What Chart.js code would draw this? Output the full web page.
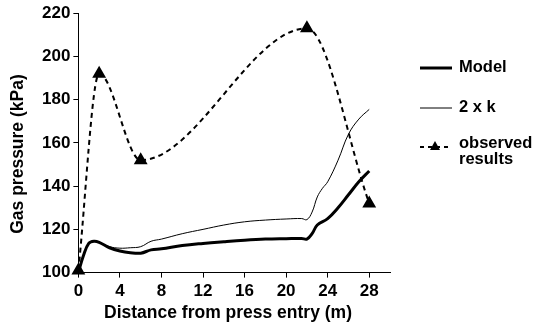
<!DOCTYPE html>
<html>
<head>
<meta charset="utf-8">
<script src="https://cdn.jsdelivr.net/npm/chart.js@4.4.1/dist/chart.umd.min.js"></script>
<style>
  html, body { margin: 0; padding: 0; background: #fff; }
  #wrap { width: 534px; height: 326px; position: relative; }
</style>
</head>
<body>
<div id="wrap"><canvas id="chart" width="534" height="326"></canvas></div>
<script>
// x positions (m) and pressures (kPa)
const modelX = [0, 0.5, 1, 1.5, 2, 3, 4, 5, 6, 7, 8, 10, 12, 14, 16, 18, 20, 21.5, 22, 22.5, 23, 24, 25, 26, 27, 28];
const modelY = [100, 108, 113.5, 114.5, 114, 111.5, 110, 109.2, 109, 110.5, 111, 112.5, 113.5, 114.3, 115, 115.5, 115.7, 115.8, 115.5, 118, 122, 125, 130, 136, 142, 147];

const twoKX = [0, 0.5, 1, 1.5, 2, 3, 4, 5, 6, 7, 8, 10, 12, 14, 16, 18, 20, 21.5, 22, 22.5, 23, 23.5, 24, 25, 26, 27, 28];
const twoKY = [100, 108, 113.5, 114.5, 114, 112, 111.3, 111.5, 112, 114.5, 115.5, 118, 120, 122, 123.5, 124.3, 124.8, 125, 124.5, 128, 135, 139, 142, 152, 164, 171, 175.5];

const observedX = [0, 2, 6, 22, 28];
const observedY = [101, 192, 152, 213, 132];

const xTicks = [0, 4, 8, 12, 16, 20, 24, 28];
const yTicks = [100, 120, 140, 160, 180, 200, 220];

const xTitle = 'Distance from press entry (m)';
const yTitle = 'Gas pressure (kPa)';

const toPoints = (xs, ys) => xs.map((x, i) => ({ x: x, y: ys[i] }));

const FAMILY = '"Liberation Sans", Arial, sans-serif';

// axis titles and the legend on the right are drawn here
const sideLegend = {
    id: 'sideLegend',
    afterDraw(chart) {
        const ctx = chart.ctx;
        ctx.save();
        ctx.fillStyle = '#000';
        ctx.strokeStyle = '#000';
        ctx.textBaseline = 'middle';

        ctx.font = 'bold 17.5px ' + FAMILY;
        ctx.textAlign = 'center';
        ctx.fillText(xTitle, 228, 313);
        ctx.save();
        ctx.translate(18, 154);
        ctx.rotate(-Math.PI / 2);
        ctx.fillText(yTitle, 0, 0);
        ctx.restore();

        ctx.textAlign = 'left';
        ctx.font = 'bold 16.5px ' + FAMILY;

        ctx.lineWidth = 3;
        ctx.beginPath(); ctx.moveTo(420, 68); ctx.lineTo(452, 68); ctx.stroke();
        ctx.fillText('Model', 459, 67);

        ctx.lineWidth = 1;
        ctx.beginPath(); ctx.moveTo(420, 108); ctx.lineTo(452, 108); ctx.stroke();
        ctx.fillText('2 x k', 459, 107);

        ctx.lineWidth = 2;
        ctx.setLineDash([4, 4]);
        ctx.beginPath(); ctx.moveTo(420, 147); ctx.lineTo(452, 147); ctx.stroke();
        ctx.setLineDash([]);
        ctx.beginPath();
        ctx.moveTo(435, 141); ctx.lineTo(440, 150); ctx.lineTo(430, 150); ctx.closePath();
        ctx.fill();
        ctx.fillText('observed', 459, 143);
        ctx.fillText('results', 459, 159);
        ctx.restore();
    }
};

const tickFont = { family: FAMILY, size: 17, weight: 'bold' };

new Chart(document.getElementById('chart'), {
    type: 'line',
    data: {
        datasets: [
            {
                label: 'observed results',
                data: toPoints(observedX, observedY),
                borderColor: '#000',
                backgroundColor: '#000',
                borderWidth: 2,
                borderDash: [5, 4],
                cubicInterpolationMode: 'monotone',
                pointStyle: 'triangle',
                pointRadius: 6,
                pointBackgroundColor: '#000',
                pointBorderColor: '#000',
                clip: false
            },
            {
                label: 'Model',
                data: toPoints(modelX, modelY),
                borderColor: '#000',
                borderWidth: 3,
                tension: 0.4,
                pointRadius: 0,
                clip: false
            },
            {
                label: '2 x k',
                data: toPoints(twoKX, twoKY),
                borderColor: '#000',
                borderWidth: 1,
                tension: 0.4,
                pointRadius: 0,
                clip: false
            }
        ]
    },
    options: {
        responsive: false,
        animation: false,
        layout: { padding: { top: 4, right: 144, left: 39, bottom: 20 } },
        plugins: { legend: { display: false }, tooltip: { enabled: false } },
        scales: {
            x: {
                type: 'linear',
                min: 0,
                max: 30,
                afterBuildTicks: axis => { axis.ticks = xTicks.map(v => ({ value: v })); },
                ticks: { color: '#000', font: tickFont, padding: 4, maxRotation: 0 },
                grid: { drawOnChartArea: false, color: '#000', tickLength: 5 },
                border: { color: '#000', width: 1 }
            },
            y: {
                min: 100,
                max: 220,
                afterBuildTicks: axis => { axis.ticks = yTicks.map(v => ({ value: v })); },
                ticks: { color: '#000', font: tickFont, padding: 3 },
                grid: { drawOnChartArea: false, color: '#000', tickLength: 5 },
                border: { color: '#000', width: 1 }
            }
        }
    },
    plugins: [sideLegend]
});
</script>
</body>
</html>
